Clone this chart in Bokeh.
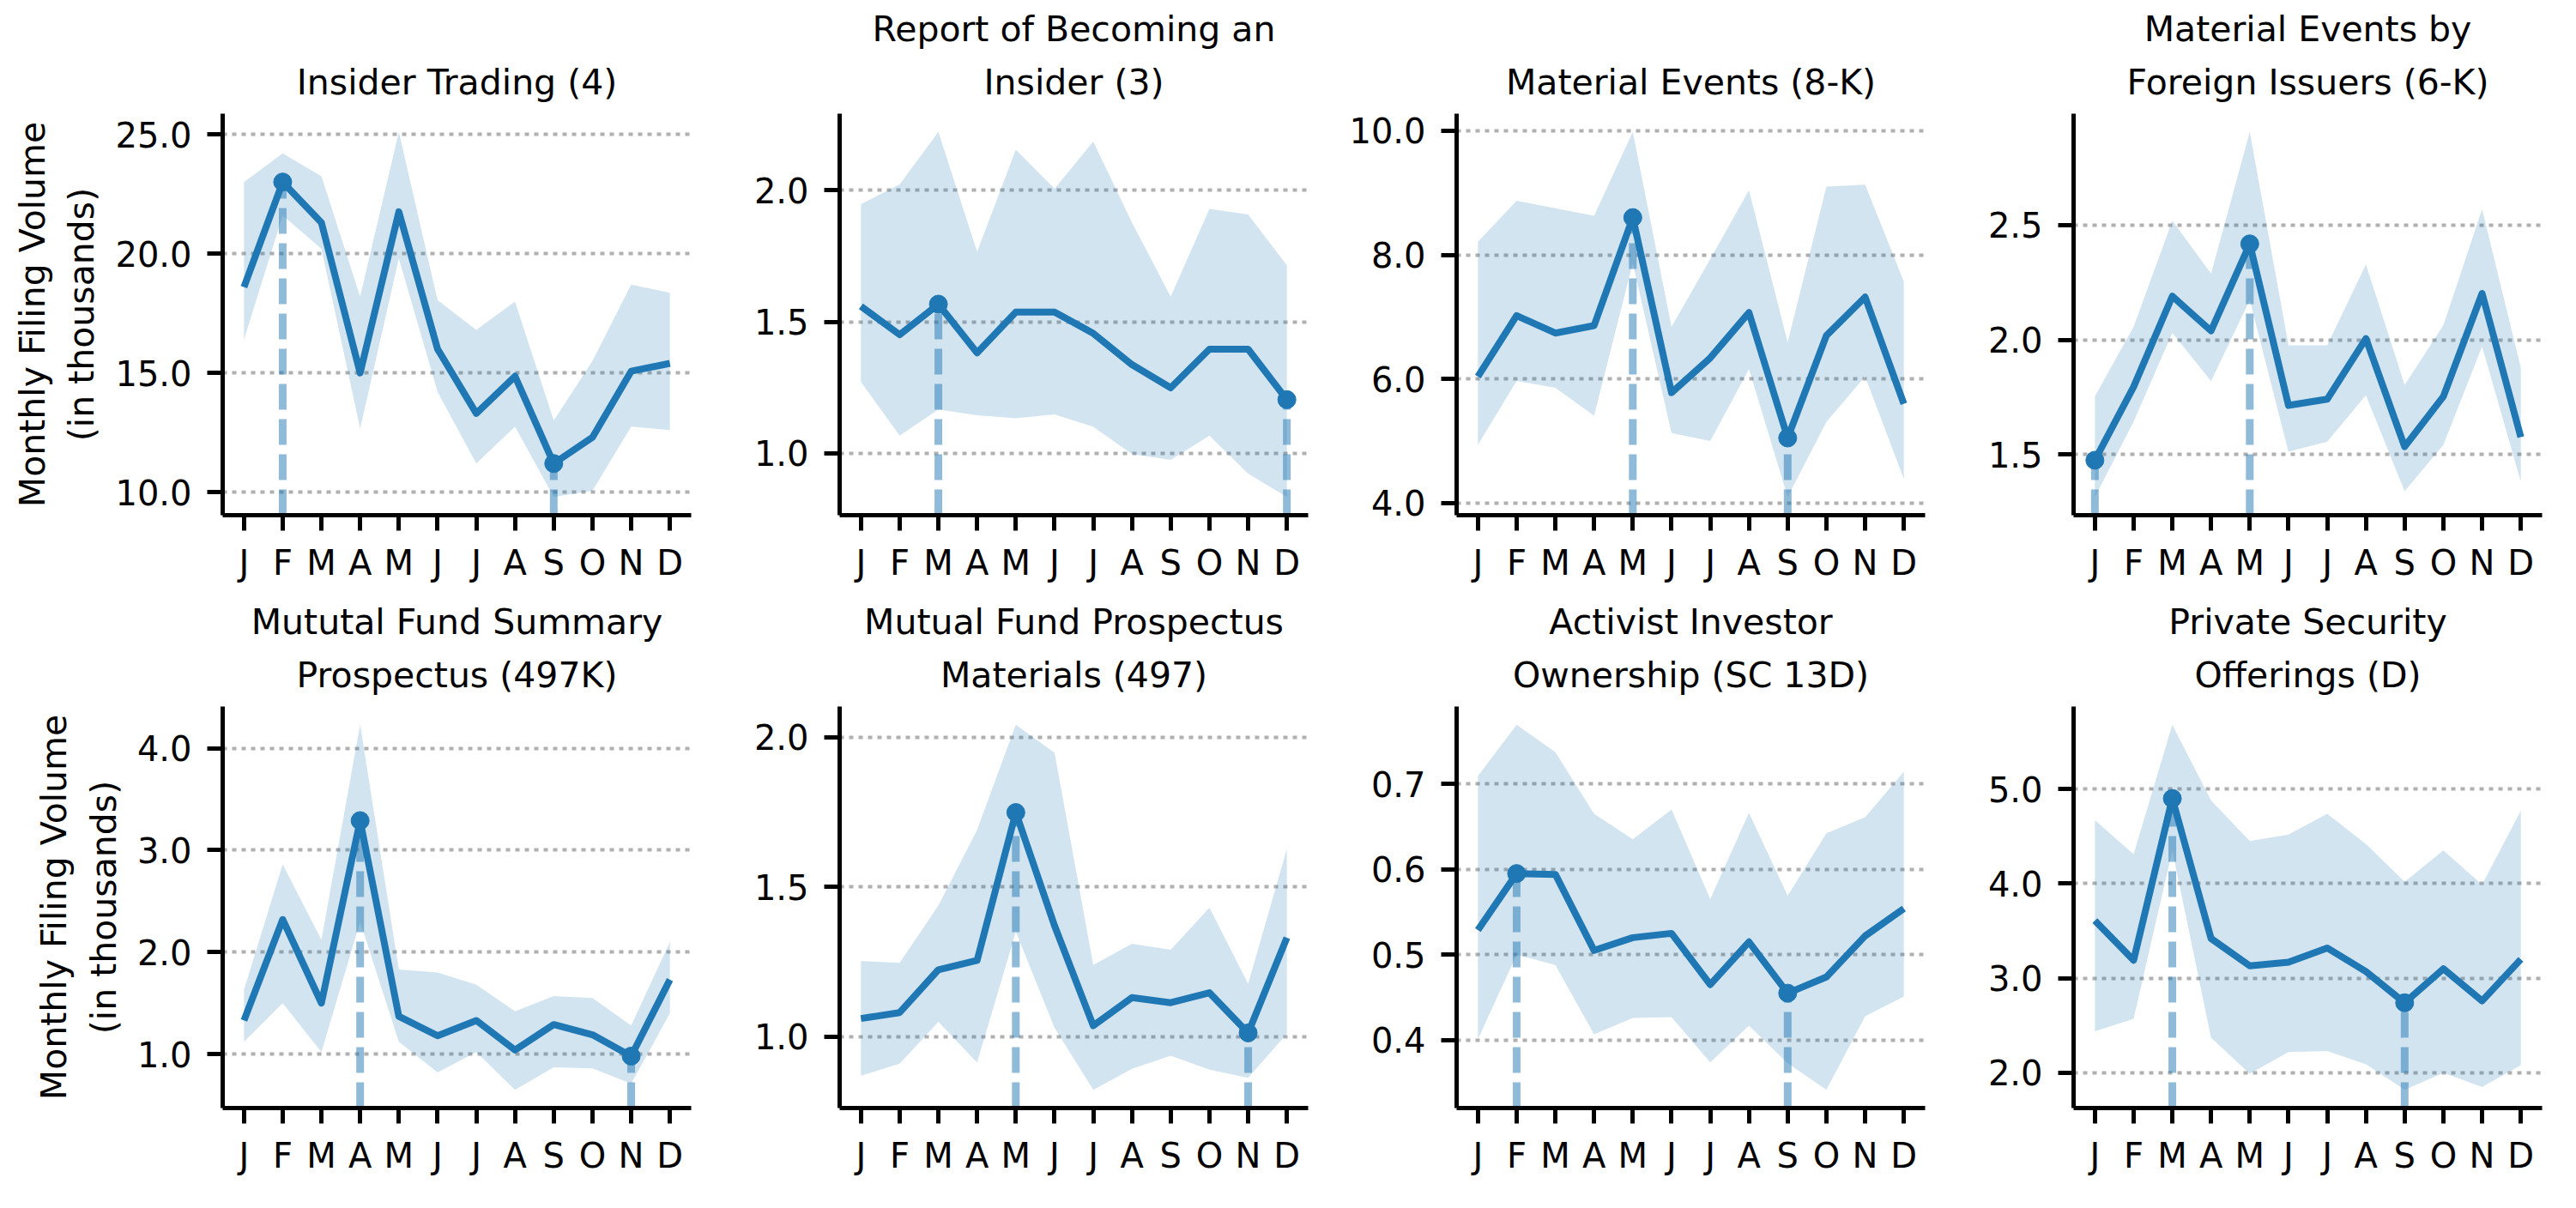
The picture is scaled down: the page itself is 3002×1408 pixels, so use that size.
from bokeh.plotting import figure
from bokeh.layouts import row, column
from bokeh.models import FixedTicker, PrintfTickFormatter, Range1d, Title
from bokeh.embed import file_html
from bokeh.resources import INLINE

months = ["J", "F", "M", "A", "M", "J", "J", "A", "S", "O", "N", "D"]

titles = [
    "Insider Trading (4)",
    "Report of Becoming an\nInsider (3)",
    "Material Events (8-K)",
    "Material Events by\nForeign Issuers (6-K)",
    "Mututal Fund Summary\nProspectus (497K)",
    "Mutual Fund Prospectus\nMaterials (497)",
    "Activist Investor\nOwnership (SC 13D)",
    "Private Security\nOfferings (D)",
]

# Form 4
f4_mean = [18.6, 23.0, 21.3, 15.0, 21.75, 16.0, 13.3, 14.86, 11.2, 12.3, 15.07, 15.4]
f4_hi = [23.0, 24.2, 23.24, 18.2, 25.1, 18.04, 16.8, 17.99, 13.0, 15.5, 18.7, 18.36]
f4_lo = [16.4, 21.6, 20.2, 12.67, 19.8, 14.2, 11.2, 12.75, 9.8, 10.06, 12.75, 12.6]
f4_ticks = [10, 15, 20, 25]

# Form 3
f3_mean = [1.559, 1.451, 1.567, 1.382, 1.537, 1.537, 1.456, 1.337, 1.249, 1.396, 1.396, 1.204]
f3_hi = [1.947, 2.022, 2.222, 1.766, 2.154, 2.006, 2.185, 1.877, 1.596, 1.929, 1.908, 1.715]
f3_lo = [1.271, 1.067, 1.167, 1.145, 1.133, 1.148, 1.101, 0.997, 0.975, 1.067, 0.923, 0.834]
f3_ticks = [1.0, 1.5, 2.0]

# Form 8-K
f8k_mean = [6.04, 7.02, 6.74, 6.86, 8.60, 5.78, 6.34, 7.07, 5.05, 6.70, 7.32, 5.60]
f8k_hi = [8.21, 8.87, 8.75, 8.63, 9.98, 6.84, 7.93, 9.04, 6.59, 9.10, 9.13, 7.57]
f8k_lo = [4.94, 5.97, 5.86, 5.41, 7.87, 5.13, 5.00, 6.16, 4.10, 5.31, 6.04, 4.39]
f8k_ticks = [4, 6, 8, 10]

# Form 6-K
f6k_mean = [1.475, 1.795, 2.190, 2.039, 2.418, 1.714, 1.741, 2.005, 1.534, 1.753, 2.202, 1.576]
f6k_hi = [1.753, 2.056, 2.519, 2.288, 2.906, 1.976, 1.976, 2.328, 1.803, 2.064, 2.569, 1.879]
f6k_lo = [1.315, 1.643, 2.030, 1.820, 2.173, 1.512, 1.556, 1.758, 1.340, 1.542, 1.971, 1.382]
f6k_ticks = [1.5, 2.0, 2.5]

# Form 497K
f497k_mean = [1.33, 2.32, 1.50, 3.29, 1.37, 1.18, 1.33, 1.04, 1.29, 1.19, 0.98, 1.73]
f497k_hi = [1.63, 2.86, 2.12, 4.23, 1.83, 1.80, 1.68, 1.42, 1.57, 1.55, 1.28, 2.10]
f497k_lo = [1.12, 1.50, 1.02, 2.30, 1.12, 0.82, 1.02, 0.65, 0.87, 0.86, 0.71, 1.40]
f497k_ticks = [1, 2, 3, 4]

# Form 497
f497_mean = [1.060, 1.080, 1.223, 1.254, 1.748, 1.370, 1.036, 1.130, 1.113, 1.146, 1.012, 1.330]
f497_hi = [1.252, 1.246, 1.437, 1.690, 2.041, 1.947, 1.239, 1.310, 1.290, 1.430, 1.176, 1.626]
f497_lo = [0.869, 0.909, 1.049, 0.913, 1.350, 1.029, 0.822, 0.892, 0.936, 0.889, 0.862, 1.009]
f497_ticks = [1.0, 1.5, 2.0]

# Form SC 13D
f13d_mean = [0.529, 0.595, 0.594, 0.505, 0.520, 0.525, 0.465, 0.515, 0.455, 0.474, 0.522, 0.554]
f13d_hi = [0.709, 0.769, 0.737, 0.665, 0.635, 0.670, 0.565, 0.666, 0.569, 0.642, 0.661, 0.714]
f13d_lo = [0.401, 0.500, 0.488, 0.407, 0.426, 0.427, 0.374, 0.417, 0.373, 0.342, 0.428, 0.451]
f13d_ticks = [0.4, 0.5, 0.6, 0.7]

# Form D
fd_mean = [3.61, 3.19, 4.90, 3.42, 3.13, 3.17, 3.32, 3.07, 2.74, 3.10, 2.76, 3.20]
fd_hi = [4.67, 4.31, 5.68, 4.88, 4.45, 4.52, 4.74, 4.42, 4.02, 4.35, 3.99, 4.77]
fd_lo = [2.44, 2.57, 4.35, 2.37, 1.99, 2.22, 2.23, 2.09, 1.82, 2.00, 1.85, 2.08]
fd_ticks = [2, 3, 4, 5]

series = [
    (f4_mean, f4_lo, f4_hi, f4_ticks),
    (f3_mean, f3_lo, f3_hi, f3_ticks),
    (f8k_mean, f8k_lo, f8k_hi, f8k_ticks),
    (f6k_mean, f6k_lo, f6k_hi, f6k_ticks),
    (f497k_mean, f497k_lo, f497k_hi, f497k_ticks),
    (f497_mean, f497_lo, f497_hi, f497_ticks),
    (f13d_mean, f13d_lo, f13d_hi, f13d_ticks),
    (fd_mean, fd_lo, fd_hi, fd_ticks),
]

BLUE = "#1f77b4"
FONT = "DejaVu Sans"
FRAME_W, FRAME_H = 546, 468


def title_line(text, standoff):
    return Title(text=text, align="center", text_font=FONT,
                 text_font_size="41px", text_font_style="normal",
                 text_color="black", standoff=standoff)


def make_panel(i):
    mean, lo, hi, ticks = series[i]
    col, rw = i % 4, i // 4
    x = list(range(len(months)))
    ymin, ymax = min(lo), max(hi)
    pad = 0.05 * (ymax - ymin)
    y0, y1 = ymin - pad, ymax + pad

    left = 259 if col == 0 else 168
    top = 132 if rw == 0 else 133
    bottom = 90
    right = 5
    p = figure(width=left + FRAME_W + right, height=top + FRAME_H + bottom,
               x_range=Range1d(-0.55, 11.55), y_range=Range1d(y0, y1),
               output_backend="svg", toolbar_location=None, title=None,
               min_border_left=left, min_border_right=right,
               min_border_top=top, min_border_bottom=bottom)
    p.outline_line_color = None
    p.background_fill_color = "white"

    p.varea(x=x, y1=lo, y2=hi, fill_color=BLUE, fill_alpha=0.2)

    imax = max(range(len(mean)), key=lambda k: mean[k])
    imin = min(range(len(mean)), key=lambda k: mean[k])
    for k in (imax, imin):
        p.segment(x0=[x[k]], y0=[y0], x1=[x[k]], y1=[mean[k]],
                  line_color=BLUE, line_alpha=0.5, line_width=9,
                  line_dash="30 11")
    p.line(x, mean, line_color=BLUE, line_width=8, line_join="round")
    p.scatter([x[imax], x[imin]], [mean[imax], mean[imin]], size=21,
              fill_color=BLUE, line_color=BLUE)

    lines = titles[i].split("\n")
    # innermost (closest to frame) first
    for j, ln in enumerate(reversed(lines)):
        p.add_layout(title_line(ln, 25 if j == 0 else 0), "above")

    p.xaxis.ticker = FixedTicker(ticks=x)
    p.xaxis.major_label_overrides = {k: m for k, m in zip(x, months)}
    p.yaxis.ticker = FixedTicker(ticks=ticks)
    p.yaxis.formatter = PrintfTickFormatter(format="%.1f")
    for ax in (p.xaxis, p.yaxis):
        ax.axis_line_width = 5
        ax.major_tick_line_width = 5
        ax.major_tick_out = 18
        ax.major_tick_in = 0
        ax.minor_tick_out = 0
        ax.minor_tick_in = 0
        ax.major_label_text_font = FONT
        ax.major_label_text_font_size = "40px"
        ax.major_label_text_color = "black"
        ax.axis_line_color = "black"
        ax.major_tick_line_color = "black"
    p.xaxis.major_label_standoff = 14
    p.yaxis.major_label_standoff = 18

    if col == 0:
        p.yaxis.axis_label = "Monthly Filing Volume\n(in thousands)"
        p.yaxis.axis_label_text_font = FONT
        p.yaxis.axis_label_text_font_size = "41px"
        p.yaxis.axis_label_text_font_style = "normal"
        p.yaxis.axis_label_text_color = "black"
        p.yaxis.axis_label_standoff = 12
        p.yaxis.axis_label_text_line_height = 1.2

    p.xgrid.visible = False
    p.ygrid.ticker = FixedTicker(ticks=ticks)
    p.ygrid.grid_line_color = "#b0b0b0"
    p.ygrid.grid_line_width = 4
    p.ygrid.grid_line_dash = "5 6"
    return p


panels = [make_panel(i) for i in range(8)]
layout = column(row(*panels[:4]), row(*panels[4:]))

open("out.html", "w").write(file_html(layout, INLINE))
